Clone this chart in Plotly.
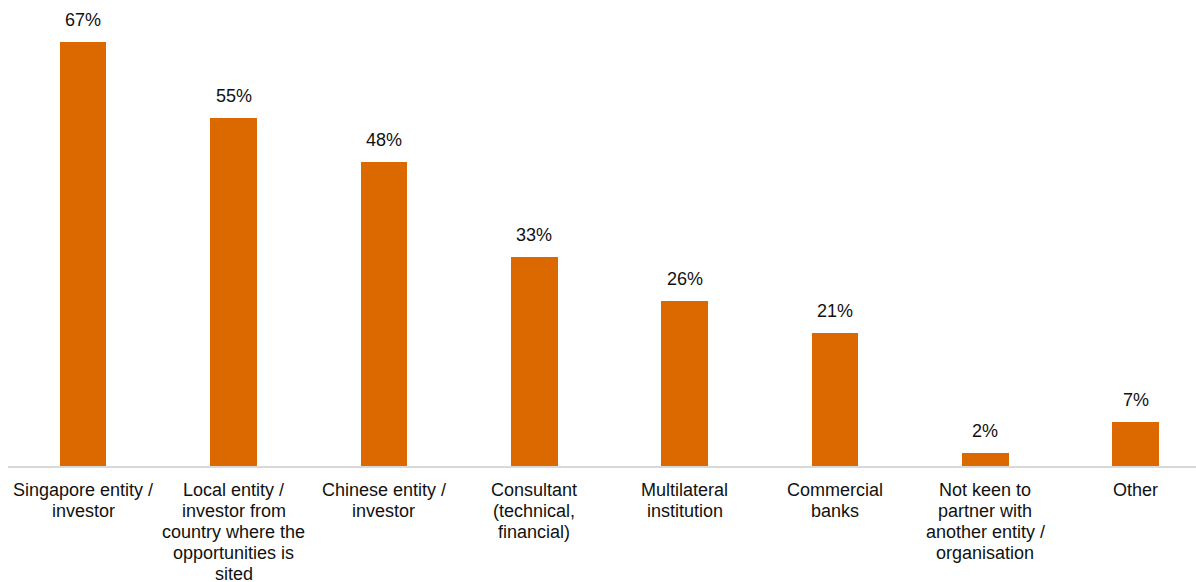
import plotly.graph_objects as go

categories = [
    "Singapore entity /<br>investor",
    "Local entity /<br>investor from<br>country where the<br>opportunities is<br>sited",
    "Chinese entity /<br>investor",
    "Consultant<br>(technical,<br>financial)",
    "Multilateral<br>institution",
    "Commercial<br>banks",
    "Not keen to<br>partner with<br>another entity /<br>organisation",
    "Other",
]
values = [67, 55, 48, 33, 26, 21, 2, 7]

BAR_COLOR = "#DC6900"
TEXT_COLOR = "#111111"
FONT = "Liberation Sans, Arial, sans-serif"
LINE_STEP = 21  # px between wrapped category label lines

fig = go.Figure(
    go.Bar(
        x=list(range(len(categories))),
        y=values,
        width=0.31,
        marker=dict(color=BAR_COLOR, line=dict(width=0)),
        hoverinfo="skip",
    )
)

# value labels above bars
for i, v in enumerate(values):
    fig.add_annotation(
        x=i, y=v, text=f"{v}%", showarrow=False,
        yanchor="bottom", yshift=10,
        font=dict(family=FONT, size=18, color=TEXT_COLOR),
    )

# category labels, one annotation per wrapped line for tighter spacing
for i, label in enumerate(categories):
    for k, line in enumerate(label.split("<br>")):
        fig.add_annotation(
            x=i, xref="x", y=0, yref="paper", text=line, showarrow=False,
            yanchor="middle", yshift=-(24 + LINE_STEP * k),
            font=dict(family=FONT, size=18, color=TEXT_COLOR),
        )

fig.update_layout(
    width=1196, height=582,
    margin=dict(l=8, r=0, t=0, b=116),
    paper_bgcolor="white", plot_bgcolor="white",
    showlegend=False,
    font=dict(family=FONT, size=18, color=TEXT_COLOR),
    bargap=0,
)
fig.update_xaxes(
    range=[-0.5, 7.402],
    tickmode="array",
    tickvals=list(range(len(categories))),
    showticklabels=False,
    showgrid=False, zeroline=False,
    showline=True, linecolor="#D9D9D9", linewidth=2,
    ticks="", automargin=False,
)
fig.update_yaxes(
    range=[0, 73.6],
    visible=False, showgrid=False, zeroline=False, automargin=False,
)

fig.write_html("out.html")
